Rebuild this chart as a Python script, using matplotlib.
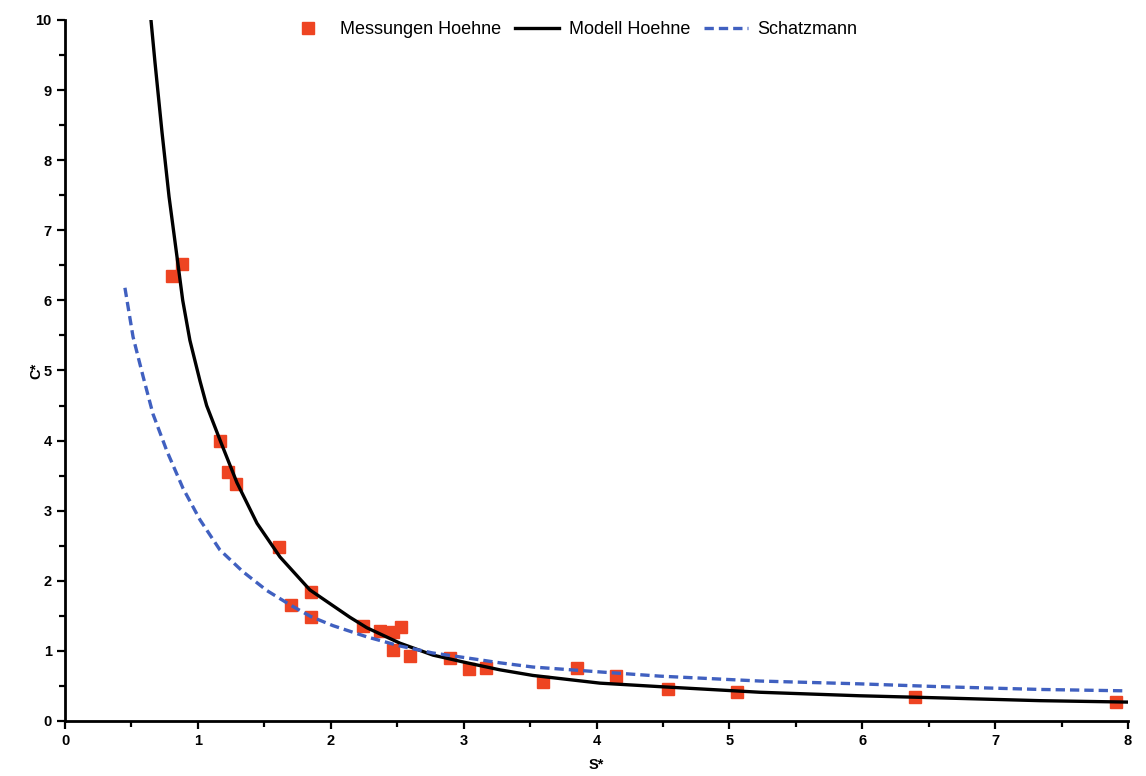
import matplotlib
matplotlib.use("Agg")
import matplotlib.pyplot as plt
from matplotlib.ticker import MultipleLocator

plt.rcParams["font.family"] = ["Liberation Sans", "DejaVu Sans"]

# measured points (S*, C*)
meas_s = [0.805, 0.88, 1.17, 1.23, 1.29, 1.61, 1.70, 1.85, 1.85, 2.24, 2.37, 2.47,
          2.53, 2.47, 2.60, 2.90, 3.04, 3.17, 3.60, 3.85, 4.15, 4.54, 5.06, 6.40, 7.91]
meas_c = [6.35, 6.52, 3.99, 3.55, 3.38, 2.48, 1.65, 1.84, 1.48, 1.36, 1.28, 1.27,
          1.34, 1.01, 0.93, 0.90, 0.74, 0.76, 0.56, 0.76, 0.64, 0.46, 0.41, 0.34, 0.27]

# model curve Hoehne
model_s = [0.647, 0.677, 0.730, 0.783, 0.850, 0.886, 0.940, 1.016, 1.066, 1.166, 1.294,
           1.445, 1.618, 1.843, 2.144, 2.272, 2.521, 2.769, 3.025, 3.273, 3.521, 4.026,
           4.477, 5.23, 5.98, 6.58, 7.34, 7.99]
model_c = [10.0, 9.40, 8.40, 7.48, 6.52, 6.00, 5.43, 4.85, 4.50, 4.01, 3.40,
           2.82, 2.34, 1.87, 1.48, 1.33, 1.11, 0.94, 0.83, 0.73, 0.65, 0.54,
           0.49, 0.41, 0.36, 0.33, 0.29, 0.27]

# Schatzmann curve
schatz_s = [0.451, 0.512, 0.587, 0.662, 0.767, 0.888, 1.016, 1.166, 1.339, 1.52, 1.70,
            1.85, 2.017, 2.272, 2.521, 2.769, 3.025, 3.273, 3.521, 4.026, 4.477, 5.23,
            5.98, 6.58, 7.34, 7.99]
schatz_c = [6.18, 5.48, 4.92, 4.38, 3.85, 3.32, 2.87, 2.44, 2.13, 1.86, 1.65,
            1.49, 1.36, 1.20, 1.07, 0.97, 0.90, 0.83, 0.77, 0.70, 0.64, 0.57,
            0.53, 0.49, 0.45, 0.43]

fig = plt.figure(figsize=(11.46, 7.76), dpi=100)
ax = fig.add_axes([65 / 1146, 55 / 776, 1063 / 1146, 701 / 776])

ax.plot(meas_s, meas_c, "s", color="#ee4422", markersize=8.5, label="Messungen Hoehne",
        zorder=2)
ax.plot(model_s, model_c, "-", color="black", lw=2.4, label="Modell Hoehne", zorder=3)
ax.plot(schatz_s, schatz_c, "--", color="#4060c0", lw=2.4, dashes=(2.8, 1.5),
        label="Schatzmann", zorder=3)

ax.set_xlim(0, 8)
ax.set_ylim(0, 10)
ax.xaxis.set_major_locator(MultipleLocator(1))
ax.xaxis.set_minor_locator(MultipleLocator(0.5))
ax.yaxis.set_major_locator(MultipleLocator(1))
ax.yaxis.set_minor_locator(MultipleLocator(0.5))

for side in ["top", "right"]:
    ax.spines[side].set_visible(False)
for side in ["left", "bottom"]:
    ax.spines[side].set_linewidth(2)

ax.tick_params(which="major", direction="out", length=6, width=1.6, labelsize=10.5)
ax.tick_params(which="minor", direction="out", length=4, width=1.6)
for lbl in ax.get_xticklabels() + ax.get_yticklabels():
    lbl.set_fontweight("bold")

ax.set_xlabel("S*", fontweight="bold", fontsize=10.5, labelpad=7)
ax.set_ylabel("C*", fontweight="bold", fontsize=10.5)
ax.yaxis.set_label_coords(-0.02, 0.5)

ax.legend(loc="upper center", bbox_to_anchor=(0.477, 1.022), ncol=3, frameon=False,
          fontsize=13, handlelength=2.4, columnspacing=0.8, handletextpad=0.55)

fig.savefig("out.png", dpi=100)
